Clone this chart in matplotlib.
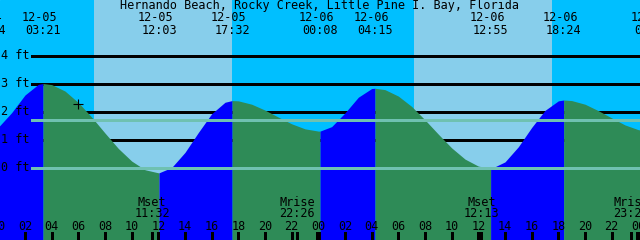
import matplotlib
matplotlib.use("Agg")
import matplotlib.pyplot as plt
import numpy as np

# ---- data (hours from 12-05 00:00, levels in feet) ---- #
hours = list(range(0, 50))
level_ft = [1.44, 1.96, 2.59, 2.97, 2.96, 2.73, 2.32, 1.80, 1.23, 0.68,
            0.23, -0.08, -0.19, 0.00, 0.54, 1.25, 1.92, 2.33, 2.38, 2.26,
            2.05, 1.80, 1.56, 1.38, 1.30, 1.46, 1.95, 2.51, 2.82, 2.78,
            2.55, 2.18, 1.70, 1.19, 0.70, 0.30, 0.05, -0.03, 0.20, 0.74,
            1.43, 2.04, 2.38, 2.39, 2.26, 2.03, 1.77, 1.52, 1.35, 1.28]

# tide extremes shown at the top
ext_hours = [-0.77, 3.35, 12.05, 17.53, 24.13, 28.25, 36.92, 42.40, 49.05]
ext_feet = [1.30, 3.00, -0.19, 2.39, 1.30, 2.83, -0.03, 2.41, 1.28]
ext_dates = ["12-04", "12-05", "12-05", "12-05", "12-06", "12-06", "12-06", "12-06", "12-07"]
ext_times = ["23:14", "03:21", "12:03", "17:32", "00:08", "04:15", "12:55", "18:24", "01:03"]

# daylight spans (sunrise, sunset)
day_spans = [(7.18, 17.51), (31.20, 41.51)]

# moon events along the bottom
moon_hours = [11.53, 22.43, 36.22, 47.47]
moon_names = ["Mset", "Mrise", "Mset", "Mrise"]
moon_times = ["11:32", "22:26", "12:13", "23:28"]

hour_ticks = list(range(0, 49, 2))
hour_labels = [f"{h % 24:02d}" for h in hour_ticks]

mark_ft = 1.69          # reference mark line
now_hour, now_ft = 6.0, 2.27
title = "Hernando Beach, Rocky Creek, Little Pine I. Bay, Florida"

NIGHT, DAY = "#00bfff", "#87ceeb"
RISE, FALL = "#0000ff", "#2e8b57"
MARK = "#6fc1b1"
FONT = dict(family="DejaVu Sans Mono", size=8.5, color="black")

W, H = 640, 240
fig = plt.figure(figsize=(6.4, 2.4), dpi=100)
ax = fig.add_axes([0, 0, 1, 1])
ax.set_xlim(0.125, 48.125)
ax.set_ylim((167.5 - H) / 28, 167.5 / 28)
ax.axis("off")
ax.add_patch(plt.Rectangle((0, 0), 1, 1, transform=ax.transAxes, color=NIGHT, zorder=0))
for a, b in day_spans:
    ax.axvspan(a, b, color=DAY, lw=0, zorder=0.5)

# foot grid behind the water
for ft in [1, 2, 3, 4]:
    ax.axhline(ft, xmin=32 / W, color="black", lw=1.0, antialiased=False, zorder=1)

# water, coloured by rising / falling
pts = sorted(zip(hours + ext_hours, level_ft + ext_feet))
th = np.array([p[0] for p in pts])
lv = np.array([p[1] for p in pts])
bottom = (167.5 - H) / 28
for i in range(len(ext_hours) - 1):
    sel = (th >= ext_hours[i]) & (th <= ext_hours[i + 1])
    col = RISE if ext_feet[i + 1] > ext_feet[i] else FALL
    ax.fill_between(th[sel], lv[sel], bottom, color=col, lw=0, zorder=2)

for ft in [0, mark_ft]:
    ax.axhline(ft, xmin=32 / W, color=MARK, lw=1.0, antialiased=False, zorder=3)

for ft in [0, 1, 2, 3, 4]:
    ax.text(1 / W, ft, f"{ft} ft", ha="left", va="center",
            transform=ax.get_yaxis_transform(), zorder=5, **FONT)

ax.plot(now_hour, now_ft, marker="+", ms=7, mew=0.8, color="black", zorder=5)

xt = ax.get_xaxis_transform()
ax.text(0.5, 1 - 6 / H, title, ha="center", va="center", transform=ax.transAxes, **FONT)
for h, d, tm in zip(ext_hours, ext_dates, ext_times):
    ax.text(h - 3.5 / 13.333, 1 - 17.5 / H, d, ha="center", va="center", transform=xt,
            clip_on=False, **FONT)
    ax.text(h, 1 - 30 / H, tm, ha="center", va="center", transform=xt, clip_on=False, **FONT)

for h, n, tm in zip(moon_hours, moon_names, moon_times):
    ax.text(h, 1 - 202 / H, n, ha="center", va="center", transform=xt, **FONT)
    ax.text(h, 1 - 213.5 / H, tm, ha="center", va="center", transform=xt, **FONT)
    ax.vlines(h, 0, 8 / H, transform=xt, color="black", lw=0.75, antialiased=False, zorder=4)

for h, lab in zip(hour_ticks, hour_labels):
    ax.text(h, 1 - 226 / H, lab, ha="center", va="center", transform=xt, **FONT)
    thick = h % 24 == 0
    ax.vlines(h, 0, 8 / H, transform=xt, color="black", lw=2.2 if thick else 0.75,
              antialiased=False, zorder=4)

fig.savefig("out.png", dpi=100)
